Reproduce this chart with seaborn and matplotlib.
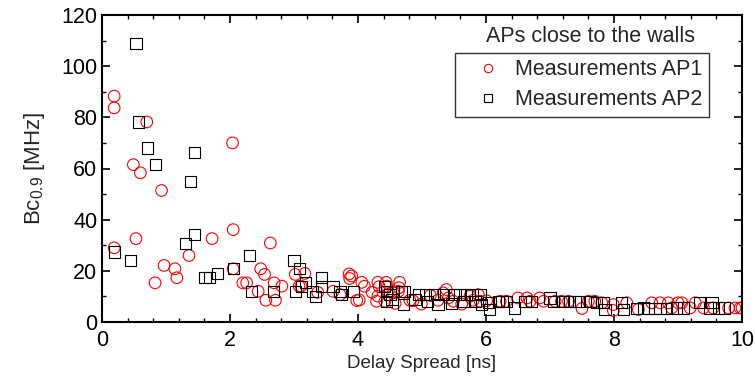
import matplotlib
matplotlib.use("Agg")
import matplotlib.pyplot as plt
from matplotlib.lines import Line2D
from matplotlib.ticker import MultipleLocator
import seaborn as sns
import pandas as pd

# AP1 measurements (red circles): delay spread [ns], Bc0.9 [MHz]
ap1_x = [0.19, 0.19, 0.70, 0.49, 0.60, 0.93, 2.04, 0.19, 0.53, 1.72, 2.05, 2.63, 1.36, 0.97,
         1.14, 1.17, 0.83, 2.05, 2.20, 2.26, 2.48, 2.54, 2.44, 2.56, 2.69, 2.81, 2.71, 3.02, 3.08,
         3.17, 3.11, 3.37, 3.61, 3.72, 3.86, 3.90, 3.87, 4.06, 4.10, 3.98, 4.02, 4.22, 4.31, 4.33,
         4.44, 4.45, 4.31, 4.29, 4.42, 4.47, 4.55, 4.65, 4.64, 4.63, 4.58, 4.81, 4.86, 4.99,
         5.13, 5.25, 5.33, 5.38, 5.41, 5.49, 5.62, 5.75, 5.80, 5.88, 5.91, 6.01, 6.22, 6.32,
         6.50, 6.64, 6.69, 6.84, 6.90, 7.08, 7.18, 7.29, 7.50, 7.60, 7.70,
         7.81, 7.99, 7.99, 8.20, 8.38, 8.59, 8.72, 8.85, 9.00,
         8.90, 9.06, 9.19, 9.27, 9.40, 9.55, 9.79, 9.89, 9.97, 10.0]
ap1_y = [88.3, 83.7, 78.2, 61.5, 58.3, 51.4, 70.0, 29.0, 32.6, 32.6, 36.1, 30.9, 26.0, 22.1,
         20.8, 17.3, 15.3, 20.8, 15.3, 15.3, 20.8, 18.6, 12.0, 8.5, 15.3, 14.0, 8.5, 18.6, 14.0,
         19.0, 14.0, 11.6, 12.0, 10.7, 18.8, 18.0, 17.0, 15.5, 14.0, 8.4, 8.6, 11.6, 15.5, 13.8,
         15.5, 14.0, 10.1, 8.1, 8.1, 10.7, 11.4, 15.5, 13.4, 12.0, 7.3, 8.5, 8.3, 7.0,
         10.4, 8.5, 11.4, 12.7, 9.4, 8.1, 7.0, 10.1, 8.5, 10.7, 8.1, 8.3, 8.1, 8.1,
         9.4, 9.4, 8.1, 9.4, 8.1, 8.1, 8.1, 8.1, 5.3, 8.1, 8.1,
         7.5, 6.8, 4.5, 7.5, 4.9, 7.5, 7.5, 7.5, 7.5,
         5.5, 7.5, 5.5, 7.5, 5.5, 5.5, 5.5, 5.5, 5.5, 5.5]

# AP2 measurements (black squares)
ap2_x = [0.53, 0.57, 0.71, 0.83, 1.45, 1.38, 0.19, 0.45, 1.30, 1.45, 1.61, 1.68, 1.80, 2.05,
         2.30, 2.33, 2.68, 3.00, 3.02, 3.09,
         3.18, 3.12, 3.29, 3.33, 3.43, 3.43, 3.61, 3.74, 3.72, 3.93, 4.42, 4.45, 4.50, 4.53,
         4.45, 4.68, 4.73, 4.71, 4.94, 4.89,
         5.05, 5.08, 5.20, 5.25, 5.33, 5.49, 5.46, 5.59, 5.70, 5.65, 5.78, 5.84, 5.91, 5.93,
         6.04, 6.06, 6.19, 6.25,
         6.32, 6.45, 6.61, 6.71, 7.00, 7.05, 7.20, 7.31, 7.39, 7.44, 7.63, 7.73, 7.83, 7.86,
         8.12, 8.15, 8.35, 8.46, 8.54, 8.64, 8.72, 8.82, 8.98, 9.08, 9.34, 9.50, 9.53, 9.63, 9.73]
ap2_y = [109.0, 78.2, 68.0, 61.5, 66.3, 54.8, 27.4, 24.0, 30.7, 34.2, 17.3, 17.3, 19.0, 20.8,
         26.0, 12.0, 12.0, 24.0, 12.0, 20.8,
         15.5, 13.8, 12.0, 10.1, 17.3, 13.8, 14.0, 10.7, 12.0, 12.0, 14.0, 12.0, 10.7, 8.8,
         8.1, 12.0, 12.0, 6.8, 10.7, 8.8,
         10.7, 8.1, 10.7, 6.8, 10.7, 10.7, 7.2, 10.7, 10.7, 8.1, 10.7, 8.1, 10.7, 6.8,
         7.5, 4.9, 8.1, 8.1,
         8.1, 5.5, 8.1, 8.1, 9.4, 8.1, 8.1, 8.1, 8.1, 8.1, 8.1, 7.5, 7.5, 4.9,
         7.5, 4.9, 5.2, 5.5, 5.2, 5.2, 5.2, 5.2, 5.5, 5.5, 7.5, 5.5, 7.5, 5.5, 5.5]

series_labels = ["Measurements AP1", "Measurements AP2"]
legend_title = "APs close to the walls"
x_label = "Delay Spread [ns]"
y_label = r"Bc$_{\mathregular{0.9}}$ [MHz]"

sns.set_style("white")
plt.rcParams["font.family"] = ["Liberation Sans", "DejaVu Sans"]

df1 = pd.DataFrame({"x": ap1_x, "y": ap1_y})
df2 = pd.DataFrame({"x": ap2_x, "y": ap2_y})

fig = plt.figure(figsize=(7.55, 3.84), dpi=100)
ax = fig.add_axes([102 / 755, 1 - 322 / 384, 640 / 755, 307 / 384])

sns.scatterplot(data=df1, x="x", y="y", marker="o", s=70, facecolors="none",
                edgecolor="red", linewidth=0.8, ax=ax, legend=False)
sns.scatterplot(data=df2, x="x", y="y", marker="s", s=65, facecolors="none",
                edgecolor="black", linewidth=0.8, ax=ax, legend=False)

ax.set_xlim(0, 10)
ax.set_ylim(0, 120)
ax.xaxis.set_major_locator(MultipleLocator(2))
ax.xaxis.set_minor_locator(MultipleLocator(0.4))
ax.yaxis.set_major_locator(MultipleLocator(20))
ax.yaxis.set_minor_locator(MultipleLocator(10))
ax.tick_params(which="both", direction="in", top=True, right=True, bottom=True, left=True,
               labelsize=15.5, colors="black")
ax.tick_params(which="major", length=6, width=1.2)
ax.tick_params(axis="y", which="major", pad=3.5)
ax.tick_params(axis="x", which="major", pad=6)
ax.tick_params(which="minor", length=3, width=1.0)
for sp in ax.spines.values():
    sp.set_linewidth(1.5)
    sp.set_color("black")

ax.set_xlabel(x_label, fontsize=13.5, labelpad=3)
ax.set_ylabel(y_label, fontsize=16, labelpad=10)

handles = [
    Line2D([], [], marker="o", linestyle="none", markersize=6, markerfacecolor="none",
           markeredgecolor="red", markeredgewidth=0.8),
    Line2D([], [], marker="s", linestyle="none", markersize=6, markerfacecolor="none",
           markeredgecolor="black", markeredgewidth=0.8),
]
leg = ax.legend(handles, series_labels, loc="upper left",
                bbox_to_anchor=((455 - 102) / 640, (322 - 53) / 307),
                frameon=True, fancybox=False, fontsize=15.5, handletextpad=0.05,
                borderpad=0.3, labelspacing=0.4, handlelength=2.45, borderaxespad=0)
leg.get_frame().set_edgecolor("black")
leg.get_frame().set_linewidth(1.0)
ax.text((590 - 102) / 640, (322 - 37) / 307, legend_title, transform=ax.transAxes,
        ha="center", va="center", fontsize=15.5)

fig.savefig("out.png", dpi=100)
